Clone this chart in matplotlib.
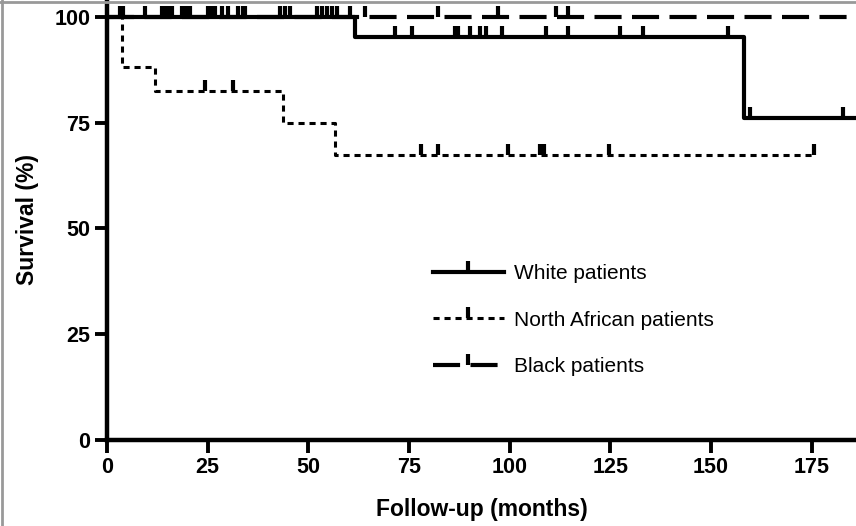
import numpy as np
import matplotlib
matplotlib.use("Agg")
import matplotlib.pyplot as plt
from matplotlib.lines import Line2D

plt.rcParams['font.family'] = ['Liberation Sans', 'DejaVu Sans']

# Kaplan-Meier steps (months, survival %)
white_t = [0, 61.6, 158.1]
white_s = [100, 95.2, 76.2]
white_end = 186
white_cens = [3.2, 9.4, 14.4, 16.2, 19.6, 26.1, 28.6, 32.6, 43, 45.5, 53.4, 55.9, 60.4,
              71.6, 75.8, 86.5, 87.2, 90.2, 92.7, 94.0, 98.2, 108.9, 114.6, 127.5,
              133.2, 154.1, 159.8, 182.7]

na_t = [0, 3.7, 12.0, 43.8, 56.7]
na_s = [100, 88.2, 82.4, 74.9, 67.4]
na_end = 176
na_cens = [24.4, 31.3, 78.0, 82.3, 99.5, 107.5, 108.5, 124.6, 175.6]

black_t = [0]
black_s = [100]
black_end = 186
black_cens = [4.0, 13.7, 15.2, 18.6, 20.6, 25.1, 26.8, 30.1, 33.8, 34.3, 44.2, 52.2,
              54.7, 57.2, 64.1, 82.3, 97.0, 111.4, 114.6]

xticks = [0, 25, 50, 75, 100, 125, 150, 175]
yticks = [0, 25, 50, 75, 100]


def surv_at(t, s, x):
    idx = np.searchsorted(t, x, side='right') - 1
    return np.array(s)[idx]


fig = plt.figure(figsize=(8.56, 5.26), dpi=100)
ax = fig.add_axes([0.125, 0.1635, 0.875, 0.8365])

series = [
    (white_t, white_s, white_end, white_cens, dict(ls='-', lw=3.0)),
    (na_t, na_s, na_end, na_cens, dict(ls=(0, (2.0, 1.6)), lw=2.2)),
    (black_t, black_s, black_end, black_cens, dict(ls=(0, (6.5, 2.5)), lw=3.0)),
]
for t, s, end, cens, st in series:
    xx = list(t) + [end]
    yy = list(s) + [s[-1]]
    ax.step(xx, yy, where='post', color='black', zorder=3, **st)
    cy = surv_at(t, s, np.array(cens))
    ax.plot(cens, cy, ls='none', marker=2, ms=8, mew=3, color='black', zorder=4)

ax.set_xlim(0, 186)
ax.set_ylim(0, 104)
ax.set_xticks(xticks)
ax.set_yticks(yticks)
for sp in ['top', 'right']:
    ax.spines[sp].set_visible(False)
for sp in ['left', 'bottom']:
    ax.spines[sp].set_linewidth(3.2)
ax.tick_params(direction='out', length=9, width=2.8, labelsize=15.5, pad=3)
for lab in ax.get_xticklabels() + ax.get_yticklabels():
    lab.set_fontweight('bold')

ax.set_xlabel('Follow-up (months)', fontsize=16.5, fontweight='bold', labelpad=15)
ax.set_ylabel('Survival (%)', fontsize=16.5, fontweight='bold', labelpad=11)

# legend handles with censor tick in the middle
leg_handles = []
for t, s, end, cens, st in series:
    leg_handles.append(Line2D([0, 0.5, 1], [0, 0, 0], color='black', marker=2, ms=8,
                              mew=3, markevery=[1], **st))
ax.legend(leg_handles, ['White patients', 'North African patients', 'Black patients'],
          loc='upper left', bbox_to_anchor=(0.41, 0.443), frameon=False,
          fontsize=15, handlelength=3.4, handletextpad=0.5, labelspacing=1.33)

# thin grey frame of the original figure
fig.add_artist(Line2D([0, 1], [0.996, 0.996], color='#999999', lw=2, transform=fig.transFigure))
fig.add_artist(Line2D([0.002, 0.002], [0, 1], color='#999999', lw=2, transform=fig.transFigure))

fig.savefig('out.png', dpi=100)
